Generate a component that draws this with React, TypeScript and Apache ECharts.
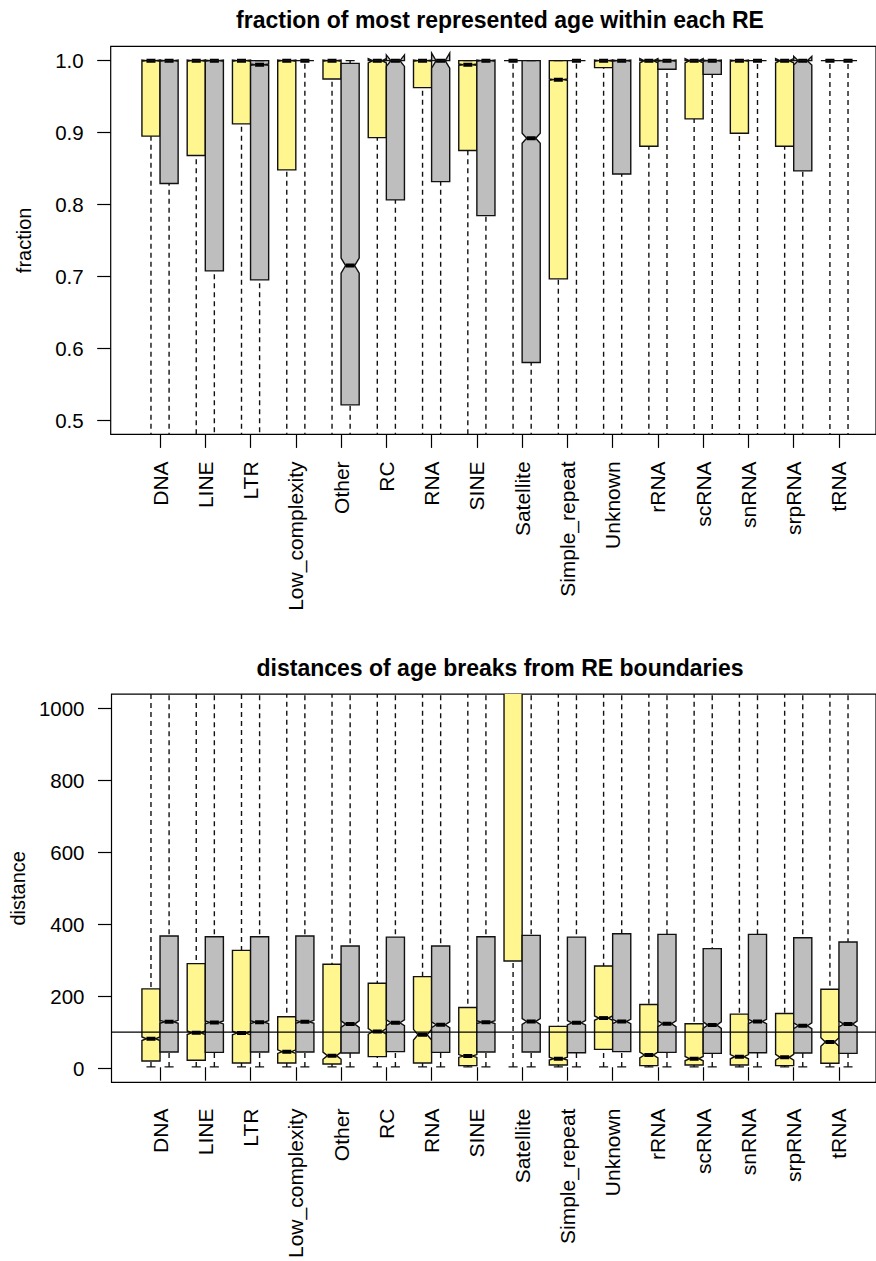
import React, { useEffect, useRef } from "react";
import * as echarts from "echarts";

const categories = [
  "DNA", "LINE", "LTR", "Low_complexity", "Other", "RC", "RNA", "SINE",
  "Satellite", "Simple_repeat", "Unknown", "rRNA", "scRNA", "snRNA", "srpRNA", "tRNA",
];

// Each row: [lower whisker, Q1, median, Q3, upper whisker, notch half-width]
const fractionKhaki = [
  [0.3, 0.895, 1.0, 1.0, 1.0, 0.001],
  [0.28, 0.868, 1.0, 1.0, 1.0, 0.001],
  [0.3, 0.912, 1.0, 1.0, 1.0, 0.001],
  [0.25, 0.848, 1.0, 1.0, 1.0, 0.001],
  [0.35, 0.9745, 1.0, 1.0, 1.0, 0.001],
  [0.3, 0.893, 1.0, 1.0, 1.0, 0.003],
  [0.3, 0.9625, 1.0, 1.0, 1.0, 0.001],
  [0.28, 0.875, 0.9944, 1.0, 1.0, 0.001],
  [0.3, 1.0, 1.0, 1.0, 1.0, 0.0],
  [0.2, 0.6964, 0.9736, 1.0, 1.0, 0.001],
  [0.3, 0.9903, 1.0, 1.0, 1.0, 0.001],
  [0.35, 0.881, 1.0, 1.0, 1.0, 0.003],
  [0.4, 0.919, 1.0, 1.0, 1.0, 0.003],
  [0.4, 0.899, 1.0, 1.0, 1.0, 0.001],
  [0.35, 0.881, 1.0, 1.0, 1.0, 0.003],
  [0.4, 1.0, 1.0, 1.0, 1.0, 0.0],
];

const fractionGray = [
  [0.25, 0.829, 1.0, 1.0, 1.0, 0.001],
  [0.22, 0.7075, 1.0, 1.0, 1.0, 0.001],
  [0.22, 0.695, 0.9944, 1.0, 1.0, 0.001],
  [0.3, 1.0, 1.0, 1.0, 1.0, 0.0],
  [0.2, 0.5211, 0.7149, 0.9963, 1.0, 0.0105],
  [0.3, 0.8063, 1.0, 1.0, 1.0, 0.008],
  [0.3, 0.8317, 1.0, 1.0, 1.0, 0.0105],
  [0.25, 0.7844, 1.0, 1.0, 1.0, 0.001],
  [0.2, 0.58, 0.892, 1.0, 1.0, 0.007],
  [0.3, 1.0, 1.0, 1.0, 1.0, 0.0],
  [0.3, 0.8424, 1.0, 1.0, 1.0, 0.001],
  [0.4, 0.988, 1.0, 1.0, 1.0, 0.001],
  [0.4, 0.981, 1.0, 1.0, 1.0, 0.001],
  [0.4, 1.0, 1.0, 1.0, 1.0, 0.0],
  [0.3, 0.8466, 1.0, 1.0, 1.0, 0.006],
  [0.4, 1.0, 1.0, 1.0, 1.0, 0.0],
];

const distanceKhaki = [
  [1, 17.5, 79.5, 218.4, 4000, 5],
  [1, 19.3, 96.2, 288.8, 4000, 5],
  [1, 12, 95.3, 325.8, 4000, 5],
  [1, 12, 43.5, 140.6, 3000, 5],
  [1, 9.2, 32.3, 287, 3000, 10],
  [1, 29.5, 99.9, 234.2, 3000, 8],
  [1, 12, 90.6, 252.7, 3000, 15],
  [1, 4.6, 31.4, 166.5, 3000, 4],
  [1, 296.2, 1500, 3500, 8000, 100],
  [1, 6.4, 24, 113.8, 3000, 4],
  [1, 49.9, 137, 282.3, 3000, 6],
  [1, 4.6, 34.2, 174.9, 3000, 8],
  [1, 6.4, 24, 121.2, 3000, 6],
  [1, 6.4, 29.5, 148.1, 3000, 6],
  [1, 4.6, 27.7, 150, 3000, 8],
  [1, 11, 70.3, 217.5, 3000, 12],
];

const distanceGray = [
  [1, 42.5, 126.7, 365.6, 5000, 4],
  [1, 41.5, 124.8, 363.7, 5000, 4],
  [1, 42.5, 125.7, 363.7, 5000, 4],
  [1, 42.5, 126.7, 365.6, 5000, 4],
  [1, 39.8, 120.3, 337.9, 5000, 9],
  [1, 43.5, 124, 362.8, 5000, 8],
  [1, 41.5, 118.4, 337.9, 5000, 8],
  [1, 42.5, 125.7, 363.7, 5000, 4],
  [1, 42.5, 127.6, 367.5, 5000, 8],
  [1, 40.6, 124, 362.8, 5000, 6],
  [1, 43.5, 127.6, 372.1, 5000, 6],
  [1, 41.5, 121.2, 370.3, 5000, 8],
  [1, 38.8, 117.5, 330.5, 5000, 9],
  [1, 40.6, 127.6, 370.3, 5000, 6],
  [1, 39.8, 115.6, 361, 5000, 8],
  [1, 38.8, 120.3, 348.9, 5000, 8],
];

const fractionTicks = [0.5, 0.6, 0.7, 0.8, 0.9, 1.0];
const distanceTicks = [0, 200, 400, 600, 800, 1000];
const distanceReference = 100;

const KHAKI = "#FFF68F";
const GRAY = "#BEBEBE";
const FONT = "'Liberation Sans', Arial, Helvetica, sans-serif";
const CAT_SIZE = 21;
const TICK_SIZE = 20.5;
const NAME_SIZE = 20;

// Notched box in the style of R's bxp(): polygon, median, dashed whiskers, staples.
function makeRenderItem(offset: number, fill: string) {
  return (params: any, api: any) => {
    const cat = api.value(0);
    const lo = api.value(1);
    const q1 = api.value(2);
    const med = api.value(3);
    const q3 = api.value(4);
    const hi = api.value(5);
    const nd = api.value(6);
    const band = api.size([1, 0])[0];
    const cx = api.coord([cat, med])[0] + offset * band;
    const wid = 0.2 * band;
    const Y = (v: number) => api.coord([cat, v])[1];
    const cl = med - nd;
    const cu = med + nd;
    const fx = [-1, 1, 1, 0.5, 1, 1, -1, -1, -0.5, -1];
    const fy = [q1, q1, cl, med, cu, q3, q3, cu, med, cl];
    const points = fx.map((f, k) => [cx + f * wid, Y(fy[k])]);
    const stroke = "#111";
    const lw = 1.4;
    const dash = [5, 4];
    return {
      type: "group",
      children: [
        {
          type: "polygon",
          shape: { points },
          style: { fill, stroke, lineWidth: lw },
        },
        {
          type: "line",
          shape: { x1: cx - 0.5 * wid, y1: Y(med), x2: cx + 0.5 * wid, y2: Y(med) },
          style: { stroke: "#000", lineWidth: 4, lineCap: "butt" },
        },
        {
          type: "line",
          shape: { x1: cx, y1: Y(lo), x2: cx, y2: Y(q1) },
          style: { stroke, lineWidth: lw, lineDash: dash },
        },
        {
          type: "line",
          shape: { x1: cx, y1: Y(hi), x2: cx, y2: Y(q3) },
          style: { stroke, lineWidth: lw, lineDash: dash },
        },
        {
          type: "line",
          shape: { x1: cx - 0.5 * wid, y1: Y(lo), x2: cx + 0.5 * wid, y2: Y(lo) },
          style: { stroke, lineWidth: lw },
        },
        {
          type: "line",
          shape: { x1: cx - 0.5 * wid, y1: Y(hi), x2: cx + 0.5 * wid, y2: Y(hi) },
          style: { stroke, lineWidth: lw },
        },
      ],
    };
  };
}

function boxSeries(rows: number[][], axis: number, offset: number, fill: string) {
  return {
    type: "custom",
    xAxisIndex: axis,
    yAxisIndex: axis,
    clip: true,
    renderItem: makeRenderItem(offset, fill),
    encode: { x: 0, y: [1, 2, 3, 4, 5] },
    data: rows.map((r, i) => [i, ...r]),
  };
}

const H = 1261;
const FRAME_LEFT = 110.7;
const FRAME_RIGHT = -13.3;
const DATA_LEFT = 137.4;
const DATA_RIGHT = 14.4;
const TOP1 = 46.3;
const BOTTOM1 = H - 434.4;
const TOP2 = 694.1;
const BOTTOM2 = H - 1082.4;

function frameGrid(top: number, bottom: number) {
  return {
    left: FRAME_LEFT,
    right: FRAME_RIGHT,
    top,
    bottom,
    show: true,
    borderColor: "#000",
    borderWidth: 1.2,
    backgroundColor: "transparent",
  };
}

function dataGrid(top: number, bottom: number) {
  return { left: DATA_LEFT, right: DATA_RIGHT, top, bottom };
}

function categoryAxis(gridIndex: number) {
  return {
    type: "category",
    gridIndex,
    data: categories,
    boundaryGap: true,
    axisLine: { show: false },
    axisTick: {
      show: true,
      alignWithLabel: true,
      interval: 0,
      length: 13.5,
      lineStyle: { color: "#000", width: 1.2 },
    },
    axisLabel: {
      interval: 0,
      rotate: 90,
      margin: 27,
      color: "#000",
      fontSize: CAT_SIZE,
      fontFamily: FONT,
    },
    splitLine: { show: false },
  };
}

function valueAxis(gridIndex: number, min: number, max: number, ticks: number[], name: string, fmt: (v: number) => string) {
  return {
    type: "value",
    gridIndex,
    min,
    max,
    name,
    nameLocation: "middle",
    nameGap: 77,
    nameTextStyle: { color: "#000", fontSize: NAME_SIZE, fontFamily: FONT },
    axisLine: { show: false },
    axisTick: {
      show: true,
      customValues: ticks,
      length: 13.5,
      lineStyle: { color: "#000", width: 1.2 },
    },
    axisLabel: {
      customValues: ticks,
      margin: 27,
      color: "#000",
      fontSize: TICK_SIZE,
      fontFamily: FONT,
      formatter: fmt,
    },
    splitLine: { show: false },
  };
}

function titleText(text: string, y: number) {
  return {
    type: "text",
    x: 500,
    y,
    style: {
      text,
      font: `bold 23px ${FONT}`,
      fill: "#000",
      align: "center",
      verticalAlign: "middle",
      textAlign: "center",
      textVerticalAlign: "middle",
    },
  };
}

export default function App() {
  const ref = useRef<HTMLDivElement>(null);

  useEffect(() => {
    if (!ref.current) return;
    const chart = echarts.init(ref.current, null, { renderer: "svg" });
    chart.setOption({
      animation: false,
      backgroundColor: "#fff",
      grid: [
        frameGrid(TOP1, BOTTOM1),
        dataGrid(TOP1, BOTTOM1),
        frameGrid(TOP2, BOTTOM2),
        dataGrid(TOP2, BOTTOM2),
      ],
      xAxis: [
        { type: "value", gridIndex: 0, min: 0, max: 1, show: false },
        categoryAxis(1),
        { type: "value", gridIndex: 2, min: 0, max: 1, show: false },
        categoryAxis(3),
      ],
      yAxis: [
        valueAxis(0, 0.48, 1.02, fractionTicks, "fraction", (v: number) => v.toFixed(1)),
        { type: "value", gridIndex: 1, min: 0.48, max: 1.02, show: false },
        valueAxis(2, -40, 1040, distanceTicks, "distance", (v: number) => String(v)),
        { type: "value", gridIndex: 3, min: -40, max: 1040, show: false },
      ],
      graphic: [
        titleText("fraction of most represented age within each RE", 20),
        titleText("distances of age breaks from RE boundaries", 668),
      ],
      series: [
        boxSeries(fractionKhaki, 1, -0.2, KHAKI),
        boxSeries(fractionGray, 1, 0.2, GRAY),
        {
          type: "line",
          xAxisIndex: 2,
          yAxisIndex: 2,
          data: [
            [0, distanceReference],
            [1, distanceReference],
          ],
          symbol: "none",
          silent: true,
          lineStyle: { color: "#000", width: 1.2 },
        },
        boxSeries(distanceKhaki, 3, -0.2, KHAKI),
        boxSeries(distanceGray, 3, 0.2, GRAY),
      ],
    });
    return () => chart.dispose();
  }, []);

  return (
    <div
      ref={ref}
      style={{ position: "absolute", left: 0, top: 0, width: 876, height: 1261 }}
    />
  );
}
